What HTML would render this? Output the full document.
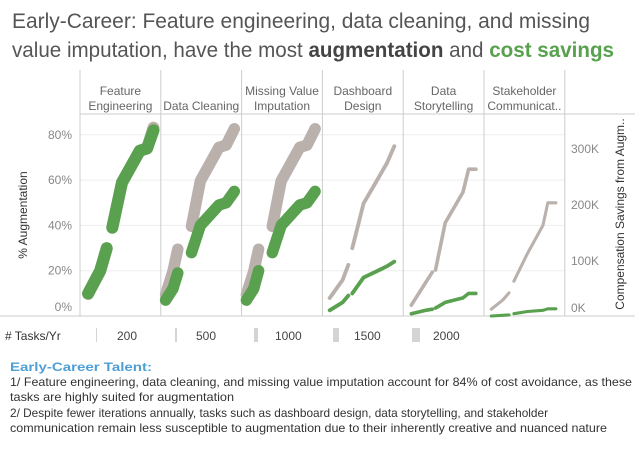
<!DOCTYPE html>
<html><head><meta charset="utf-8"><style>
body{margin:0;background:#fff;width:642px;height:449px;overflow:hidden;font-family:"Liberation Sans",sans-serif}
svg text{font-family:"Liberation Sans",sans-serif}
</style></head><body>
<svg id="c" width="642" height="449" xmlns="http://www.w3.org/2000/svg">
<text x="12" y="28" font-size="21" fill="#555" textLength="578" lengthAdjust="spacingAndGlyphs">Early-Career: Feature engineering, data cleaning, and missing</text>
<text x="12" y="57" font-size="21" fill="#555" textLength="602" lengthAdjust="spacingAndGlyphs">value imputation, have the most <tspan font-weight="bold" fill="#444">augmentation</tspan> and <tspan font-weight="bold" fill="#59a14f">cost savings</tspan></text>
<g id="grid"></g>
<g id="marks"></g>
<g id="legend"></g>
<g font-size="12" fill="#333">
<text x="10" y="371" fill="#4e9fd6" font-weight="bold" textLength="142" lengthAdjust="spacingAndGlyphs">Early-Career Talent:</text>
<text x="10" y="386" textLength="622" lengthAdjust="spacingAndGlyphs">1/ Feature engineering, data cleaning, and missing value imputation account for 84% of cost avoidance, as these</text>
<text x="10" y="401" textLength="224" lengthAdjust="spacingAndGlyphs">tasks are highly suited for augmentation</text>
<text x="10" y="417" textLength="538" lengthAdjust="spacingAndGlyphs">2/ Despite fewer iterations annually, tasks such as dashboard design, data storytelling, and stakeholder</text>
<text x="10" y="432" textLength="597" lengthAdjust="spacingAndGlyphs">communication remain less susceptible to augmentation due to their inherently creative and nuanced nature</text>
</g>
</svg>
<script>
const tasks = ["Feature|Engineering","|Data Cleaning","Missing Value|Imputation","Dashboard|Design","Data|Storytelling","Stakeholder|Communicat.."];
const xFrac = [
 [.10,.25,.33,.40,.52,.74,.83,.91],
 [.06,.15,.21,.38,.49,.72,.81,.91],
 [.06,.15,.21,.38,.49,.72,.81,.91],
 [.09,.25,.32,.37,.51,.66,.80,.89],
 [.10,.28,.36,.40,.52,.74,.81,.90],
 [.09,.23,.31,.37,.54,.73,.79,.89]
];
const augPct = [
 [10,20,30,39,59,73,74,82],
 [7,12,19,28,40,49,50,55],
 [7,12,20,28,40,49,50,55],
 [2.5,6,9,10,17,19.5,22,24],
 [1,2.5,3,3.5,6,8,10,10],
 [0,0.3,0.5,1,2,2.5,3.2,3.2]
];
const savingsK = [
 [41,82,122,160,240,297,301,338],
 [40,81,121,162,243,303,307,336],
 [40,81,121,162,243,303,307,336],
 [34,66,93,123,203,240,275,305],
 [21,62,80,84,168,223,264,264],
 [14,30,43,64,114,164,204,204]
];
const tasksPerYr = [2000,1900,1900,450,400,300];
const leftTicks = [0,20,40,60,80];
const rightTicks = [0,100,200,300];
const legendVals = [200,500,1000,1500,2000];

const NS="http://www.w3.org/2000/svg";
const panelX0=80, panelW=80.8, topY=70, headB=114, baseY=316;
const yL = v => baseY - v*2.265;
const yR = v => 317 - v*0.56;
const px = (p,f) => panelX0 + p*panelW + f*panelW;
const sw = t => 1.5 + t/2000*10.5;
function mk(tag,attrs,parent,txt){const e=document.createElementNS(NS,tag);for(const k in attrs)e.setAttribute(k,attrs[k]);if(txt!==undefined)e.textContent=txt;parent.appendChild(e);return e;}
const grid=document.getElementById('grid'), marks=document.getElementById('marks'), legend=document.getElementById('legend');
const xEnd = px(tasks.length,0);
leftTicks.forEach(t=>{
 if(t>0){const g=mk('line',{x1:panelX0,x2:xEnd,y1:yL(t),y2:yL(t),stroke:'#eee','stroke-width':1},grid);
 
 }
 const l=mk('text',{x:72,y:Math.min(yL(t)+4,311),'font-size':12,fill:'#888','text-anchor':'end'},grid,t+'%');
 
 
});
rightTicks.forEach(t=>{
 const l=mk('text',{x:571,y:Math.min(yR(t)+4,312),'font-size':12,fill:'#888'},grid,t+'K');
 
 
});
let e;
e=mk('line',{x1:panelX0,x2:635,y1:headB,y2:headB,stroke:'#ccc'},grid);


e=mk('line',{x1:0,x2:635,y1:baseY,y2:baseY,stroke:'#ccc'},grid);


for(let p=0;p<=tasks.length;p++){
 e=mk('line',{x1:px(p,0),x2:px(p,0),y1:topY,y2:baseY,stroke:'#ccc'},grid);
 
 
}
tasks.forEach((t,p)=>{
 const parts=t.split('|');const a=parts[0], b=parts[1];const cx=px(p,0.5);
 if(a){e=mk('text',{x:cx,y:95,'font-size':12,fill:'#666','text-anchor':'middle'},grid,a);
 
 }
 const at={x:cx,y:110,'font-size':12,fill:'#666','text-anchor':'middle'};
 if(b.length>12){at.textLength=76;at.lengthAdjust='spacingAndGlyphs';}
 e=mk('text',at,grid,b);
 
 
});
e=mk('text',{x:0,y:0,'font-size':12,fill:'#333','text-anchor':'middle',transform:'translate(27,215) rotate(-90)'},grid,'% Augmentation');


e=mk('text',{x:0,y:0,'font-size':12,fill:'#333','text-anchor':'middle',transform:'translate(624,214) rotate(-90)'},grid,'Compensation Savings from Augm..');



function series(p,vals,yf,color,name){
 const w=sw(tasksPerYr[p]);
 const segs=[[0,1,2],[3,4,5,6,7]];
 segs.forEach(s=>{
  const d=s.map((i,k)=>(k?'L':'M')+px(p,xFrac[p][i]).toFixed(1)+','+yf(vals[p][i]).toFixed(1)).join('');
  const el=mk('path',{d:d,fill:'none',stroke:color,'stroke-width':w,'stroke-linecap':'round','stroke-linejoin':'round'},marks);
  
  
 });
}
tasks.forEach((t,p)=>series(p,savingsK,yR,'#bab0ac','savings-line'));
tasks.forEach((t,p)=>series(p,augPct,yL,'#59a14f','augmentation-line'));

e=mk('text',{x:5,y:340,'font-size':12,fill:'#333'},legend,'# Tasks/Yr');


legendVals.forEach((v,i)=>{
 const bx=96+i*79, w=Math.max(1,(v/2000)*8);
 const r=mk('rect',{x:bx,y:328,width:w,height:14,fill:'#d4d4d4'},legend);
 
 
 const tx=mk('text',{x:bx+21,y:340,'font-size':12,fill:'#444'},legend,v);
 
 
});
</script>
</body></html>
